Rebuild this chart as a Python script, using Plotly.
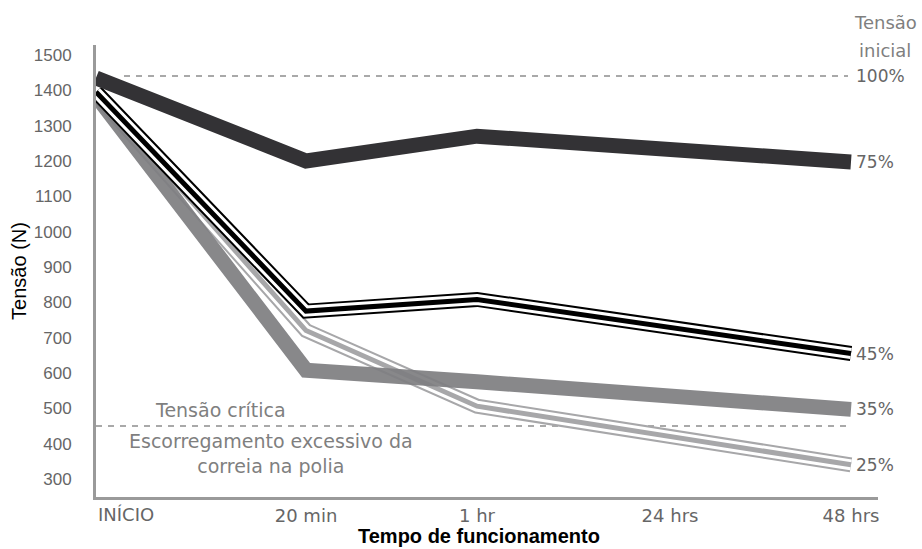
import plotly.graph_objects as go

# ---------------- data ----------------
categories = ["INÍCIO", "20 min", "1 hr", "24 hrs", "48 hrs"]
# tension (N) read at each time point; 24 hrs has no measured bend (None)
t75 = [1435, 1200, 1270, None, 1197]
t45 = [1395, 775, 808, None, 655]
t35 = [1385, 608, 575, None, 497]
t25 = [1390, 720, 506, None, 340]
series_labels = ["75%", "45%", "35%", "25%"]
ref_initial = 1440
ref_critical = 450
y_ticks = [300, 400, 500, 600, 700, 800, 900, 1000, 1100, 1200, 1300, 1400, 1500]

# ---------------- layout constants ----------------
cat_pos = [0, 210, 381, 574, 755]   # horizontal placement of the time categories
X_RANGE = [0, 782]
Y_RANGE = [249, 1528]
TXT_GRAY = "#7f7f7f"
TICK_GRAY = "#666666"
AXIS_GRAY = "#9a9a9a"
DASH_GRAY = "#a9a9a9"

fig = go.Figure()


def add_line(vals, color, width, opacity=1.0):
    fig.add_trace(go.Scatter(
        x=cat_pos, y=vals, mode="lines", connectgaps=True,
        line=dict(color=color, width=width), opacity=opacity,
        hoverinfo="skip", showlegend=False))


def add_triple(vals, color):
    add_line(vals, color, 15)
    add_line(vals, "white", 11)
    add_line(vals, color, 5)


# reference dashed lines
fig.add_trace(go.Scatter(x=[28, 752], y=[ref_initial, ref_initial], mode="lines",
                         line=dict(color=DASH_GRAY, width=2, dash="6px,6px"),
                         hoverinfo="skip", showlegend=False))
fig.add_trace(go.Scatter(x=[0, 750], y=[ref_critical, ref_critical], mode="lines",
                         line=dict(color=DASH_GRAY, width=2, dash="6px,6px"),
                         hoverinfo="skip", showlegend=False))

add_triple(t25, "#a7a7a9")
add_line(t35, "#7e7e81", 15, opacity=0.92)
add_triple(t45, "#000000")
add_line(t75, "#333235", 15)

fig.update_xaxes(
    range=X_RANGE, tickmode="array", tickvals=cat_pos[1:], ticktext=categories[1:],
    showline=True, linecolor=AXIS_GRAY, linewidth=3, showgrid=False, zeroline=False,
    ticks="", automargin=False,
    tickfont=dict(family="DejaVu Sans", size=18, color=TICK_GRAY),
)
fig.update_yaxes(
    range=Y_RANGE, tickmode="array", tickvals=y_ticks,
    showline=True, linecolor=AXIS_GRAY, linewidth=3, showgrid=False, zeroline=False,
    ticks="", ticklabelstandoff=18, automargin=False,
    tickfont=dict(family="Liberation Sans, Arial", size=17, color=TICK_GRAY),
    title=dict(text="Tensão (N)", font=dict(family="Liberation Sans, Arial", size=20, color="black"),
               standoff=2),
)

ann = []
# INÍCIO label, left aligned at axis start
ann.append(dict(x=cat_pos[0], y=0, xref="x", yref="paper", text=categories[0],
                xanchor="left", yanchor="top", yshift=-5, showarrow=False,
                font=dict(family="DejaVu Sans", size=18, color=TICK_GRAY)))
# right-end percentage labels
for lab, vals in zip(series_labels, [t75, t45, t35, t25]):
    ann.append(dict(x=cat_pos[-1], y=vals[-1], xref="x", yref="y", text=lab,
                    xanchor="left", yanchor="middle", xshift=3, showarrow=False,
                    font=dict(family="DejaVu Sans", size=17, color=TICK_GRAY)))
ann.append(dict(x=cat_pos[-1], y=ref_initial, xref="x", yref="y", text="100%",
                xanchor="left", yanchor="middle", xshift=3, showarrow=False,
                font=dict(family="DejaVu Sans", size=17, color=TICK_GRAY)))
# "Tensão inicial" heading above the 100% label
ann.append(dict(x=1.0, y=1.0, xref="paper", yref="paper", text="Tensão",
                xanchor="center", yanchor="middle", xshift=7, yshift=23, showarrow=False,
                font=dict(family="DejaVu Sans", size=18, color=TXT_GRAY)))
ann.append(dict(x=1.0, y=1.0, xref="paper", yref="paper", text="inicial",
                xanchor="center", yanchor="middle", xshift=7, yshift=-5, showarrow=False,
                font=dict(family="DejaVu Sans", size=18, color=TXT_GRAY)))
# critical tension texts
ann.append(dict(x=124, y=ref_critical, xref="x", yref="y", text="Tensão crítica",
                xanchor="center", yanchor="bottom", yshift=3, showarrow=False,
                font=dict(family="DejaVu Sans", size=19, color=TXT_GRAY)))
ann.append(dict(x=175, y=ref_critical, xref="x", yref="y",
                text="Escorregamento excessivo da<br>correia na polia",
                xanchor="center", yanchor="top", yshift=-2, showarrow=False, align="center",
                font=dict(family="DejaVu Sans", size=19, color=TXT_GRAY)))
# x axis title
ann.append(dict(x=0.49, y=0, xref="paper", yref="paper", text="<b>Tempo de funcionamento</b>",
                xanchor="center", yanchor="top", yshift=-26, showarrow=False,
                font=dict(family="Liberation Sans, Arial", size=20, color="black")))

fig.update_layout(
    width=922, height=549,
    margin=dict(l=96, r=44, t=45, b=52),
    paper_bgcolor="white", plot_bgcolor="white",
    annotations=ann, showlegend=False,
)

fig.write_html("out.html", config={"displayModeBar": False},
               post_script="document.body.style.margin='0';document.body.style.overflow='hidden';")
